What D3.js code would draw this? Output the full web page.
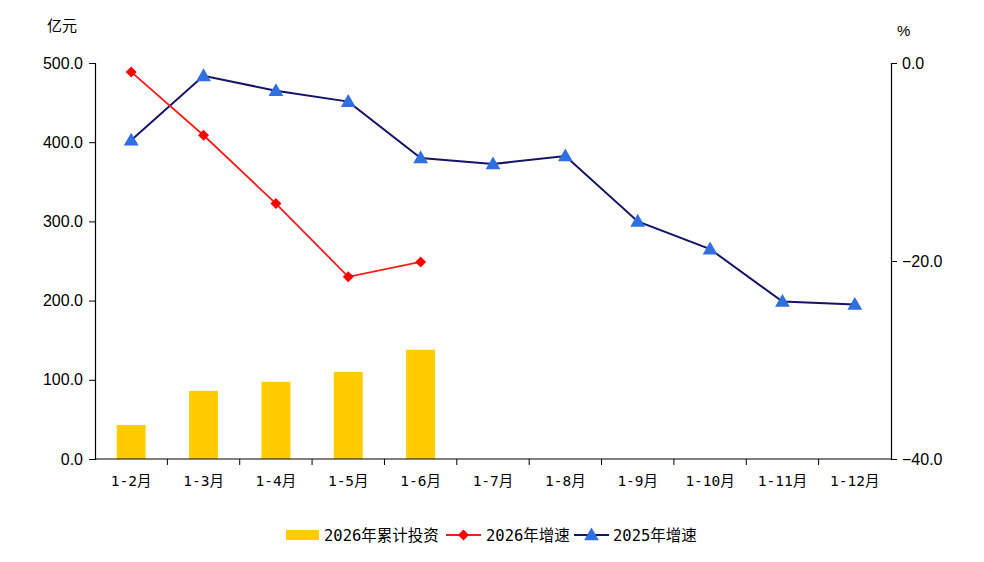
<!DOCTYPE html>
<html>
<head>
<meta charset="utf-8">
<script src="https://cdn.jsdelivr.net/npm/d3@7"></script>
<style>
  body { margin: 0; background: #fff; }
  text { font-family: "Liberation Sans", Arial, sans-serif; fill: #000; }
  .cjk { font-family: "Noto Sans CJK SC", sans-serif; }
  .song { font-family: "DejaVu Sans Mono", "Noto Sans CJK SC", monospace; }
</style>
</head>
<body>
<div id="chart"></div>
<script>
let months = ["1-2月", "1-3月", "1-4月", "1-5月", "1-6月", "1-7月", "1-8月", "1-9月", "1-10月", "1-11月", "1-12月"];
let invest2026 = [43, 86, 97.5, 110, 138];
let growth2026 = [-0.9, -7.3, -14.2, -21.6, -20.1];
let growth2025 = [-7.8, -1.3, -2.8, -3.9, -9.6, -10.2, -9.4, -16.0, -18.8, -24.1, -24.4];
let leftTicks = [0, 100, 200, 300, 400, 500];
let rightTicks = [0, -20, -40];

let margin = {top: 63, right: 93, left: 95, bottom: 103};
let width = 984 - margin.left - margin.right;
let height = 562 - margin.top - margin.bottom;

let svg = d3.select("#chart")
    .append("svg")
    .attr("width", 984)
    .attr("height", 562);

let chart = svg.append("g")
    .attr("transform", "translate(" + margin.left + ", " + margin.top + ")");

let x = d3.scaleBand()
    .domain(months)
    .range([0, width]);

let y = d3.scaleLinear()
    .domain([0, 500])
    .range([height, 0]);

let y2 = d3.scaleLinear()
    .domain([-40, 0])
    .range([height, 0]);

let cx = (d, i) => x(months[i]) + x.bandwidth() / 2;

// bars
chart.selectAll(".bar")
    .data(invest2026)
    .enter()
    .append("rect")
    .attr("class", "bar")
    .attr("x", (d, i) => cx(d, i) - x.bandwidth() * 0.2)
    .attr("width", x.bandwidth() * 0.4)
    .attr("y", d => y(d))
    .attr("height", d => height - y(d))
    .attr("fill", "#ffcc00");

// axes
let yAxis = d3.axisLeft(y).tickValues(leftTicks).tickFormat(d3.format(".1f")).tickSize(6).tickPadding(6);
let yAxis2 = d3.axisRight(y2).tickValues(rightTicks).tickFormat(d3.format(".1f")).tickSize(6).tickPadding(5);

let gl = chart.append("g").call(yAxis);
let gr = chart.append("g").attr("transform", "translate(" + width + ",0)").call(yAxis2);
[gl, gr].forEach(g => {
    g.select(".domain").attr("stroke", "#000").attr("stroke-width", 1.2);
    g.selectAll(".tick line").attr("stroke", "#000");
    g.selectAll(".tick text").style("font-size", "16px").style("fill", "#000");
});

// x axis with ticks at band boundaries
chart.append("line")
    .attr("x1", 0).attr("x2", width)
    .attr("y1", height).attr("y2", height)
    .attr("stroke", "#000").attr("stroke-width", 1.2);

chart.selectAll(".xtick")
    .data(months.slice(1))
    .enter()
    .append("line")
    .attr("x1", d => x(d)).attr("x2", d => x(d))
    .attr("y1", height).attr("y2", height + 6)
    .attr("stroke", "#000");

chart.selectAll(".xlabel")
    .data(months)
    .enter()
    .append("text")
    .attr("class", "song")
    .attr("x", d => x(d) + x.bandwidth() / 2)
    .attr("y", height + 27)
    .attr("text-anchor", "middle")
    .style("font-size", "14.5px")
    .text(d => d);

// lines
let line = d3.line()
    .x((d, i) => cx(d, i))
    .y(d => y2(d));

chart.append("path")
    .datum(growth2025)
    .attr("d", line)
    .attr("fill", "none")
    .attr("stroke", "#141468")
    .attr("stroke-width", 2);

chart.append("path")
    .datum(growth2026)
    .attr("d", line)
    .attr("fill", "none")
    .attr("stroke", "#ff1a1a")
    .attr("stroke-width", 1.8);

let tri = d3.symbol().type(d3.symbolTriangle).size(95);
let dia = d3.symbol().type(d3.symbolSquare).size(60);

chart.selectAll(".tri")
    .data(growth2025)
    .enter()
    .append("path")
    .attr("d", tri)
    .attr("transform", (d, i) => "translate(" + cx(d, i) + "," + (y2(d) + 1) + ")")
    .attr("fill", "#2f6fe0");

chart.selectAll(".dia")
    .data(growth2026)
    .enter()
    .append("path")
    .attr("d", dia)
    .attr("transform", (d, i) => "translate(" + cx(d, i) + "," + y2(d) + ") rotate(45)")
    .attr("fill", "#ff0000");

// unit labels
svg.append("text")
    .attr("class", "cjk")
    .attr("x", 47).attr("y", 31)
    .style("font-size", "15px")
    .text("亿元");

svg.append("text")
    .attr("x", 897).attr("y", 36)
    .style("font-size", "15px")
    .text("%");

// legend
let legend = svg.append("g").attr("transform", "translate(0, 535)");

legend.append("rect")
    .attr("x", 286).attr("y", -5)
    .attr("width", 33).attr("height", 10)
    .attr("fill", "#ffcc00");

legend.append("text")
    .attr("class", "song")
    .attr("x", 324).attr("y", 6)
    .style("font-size", "15.5px")
    .text("2026年累计投资");

legend.append("line")
    .attr("x1", 446).attr("x2", 481)
    .attr("stroke", "#ff1a1a").attr("stroke-width", 1.8);

legend.append("path")
    .attr("d", dia)
    .attr("transform", "translate(463.5,0) rotate(45)")
    .attr("fill", "#ff0000");

legend.append("text")
    .attr("class", "song")
    .attr("x", 486).attr("y", 6)
    .style("font-size", "15.5px")
    .text("2026年增速");

legend.append("line")
    .attr("x1", 574).attr("x2", 609)
    .attr("stroke", "#141468").attr("stroke-width", 2);

legend.append("path")
    .attr("d", tri)
    .attr("transform", "translate(591.5,1)")
    .attr("fill", "#2f6fe0");

legend.append("text")
    .attr("class", "song")
    .attr("x", 613).attr("y", 6)
    .style("font-size", "15.5px")
    .text("2025年增速");
</script>
</body>
</html>
